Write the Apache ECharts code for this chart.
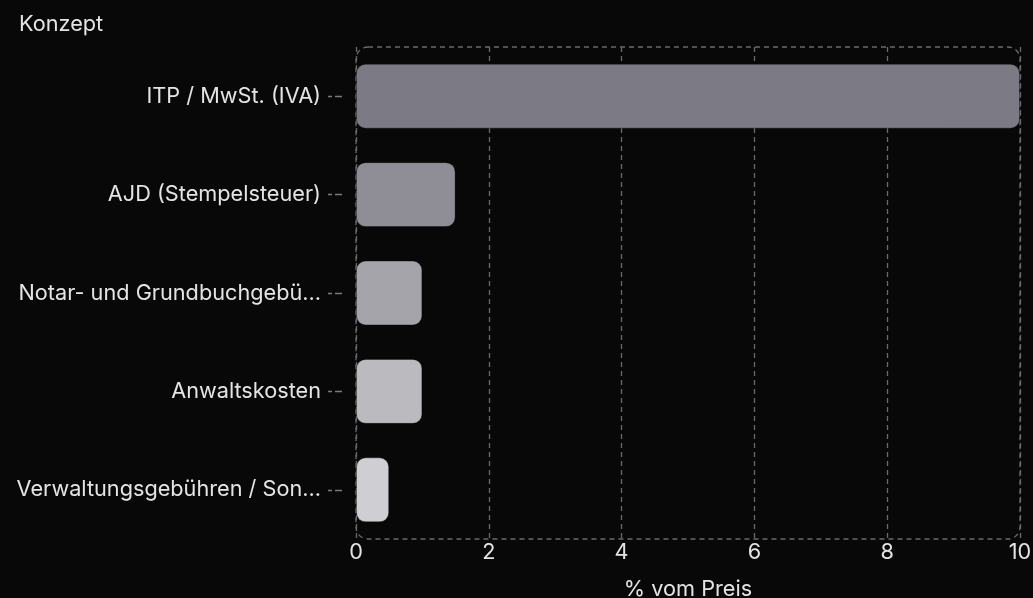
<!DOCTYPE html>
<html>
<head>
<meta charset="utf-8">
<script src="https://cdn.jsdelivr.net/npm/echarts@6/dist/echarts.min.js"></script>
<style>
  html, body { margin: 0; padding: 0; background: #080808; }
  #chart { width: 1033px; height: 598px; }
</style>
</head>
<body>
<div id="chart"></div>
<script>
// data (labels as shown, already shortened in the source chart)
const categories = ['ITP / MwSt. (IVA)', 'AJD (Stempelsteuer)', 'Notar- und Grundbuchgebü...', 'Anwaltskosten', 'Verwaltungsgebühren / Son...'];
const values = [10, 1.5, 1.0, 1.0, 0.5];
const barColors = ['#7c7b85', '#8f8e96', '#a5a4ab', '#bbbabf', '#cfced3'];

const FONT = 'Inter, "Noto Sans", sans-serif';
const TEXT = '#e4e4e4';
const FS = 21.7;
const gridLine = { color: '#6a6a6a', type: [5, 4], width: 1.3 };

const chart = echarts.init(document.getElementById('chart'));
chart.setOption({
  backgroundColor: '#080808',
  textStyle: { fontFamily: FONT },
  title: {
    text: 'Konzept',
    left: 14, top: 8,
    textStyle: { color: TEXT, fontSize: FS, fontWeight: 'normal', fontFamily: FONT }
  },
  grid: { left: 356, right: 13, top: 47, bottom: 59, outerBoundsMode: 'none', containLabel: false },
  graphic: [{
    type: 'rect',
    shape: { x: 356, y: 47, width: 664, height: 492, r: 12 },
    style: { fill: 'none', stroke: '#6a6a6a', lineWidth: 1.3, lineDash: [5, 4] },
    z: 0, silent: true
  }],
  xAxis: {
    type: 'value',
    min: 0, max: 10, interval: 2,
    name: '% vom Preis',
    nameLocation: 'middle',
    nameGap: 39,
    nameTextStyle: { color: TEXT, fontSize: FS },
    axisLine: { show: false },
    axisTick: { show: false },
    axisLabel: { color: TEXT, fontSize: FS, margin: 2 },
    splitLine: { show: true, lineStyle: gridLine }
  },
  yAxis: {
    type: 'category',
    data: categories,
    inverse: true,
    axisLine: { show: false },
    // tick starts 14px away from the plot edge, as in the source
    axisTick: {
      show: true, length: 29, alignWithLabel: true,
      lineStyle: { color: '#7a7a7a', type: [0, 14, 7, 3, 4, 100], width: 1.3 }
    },
    axisLabel: { color: TEXT, fontSize: FS, margin: 35 },
    splitLine: { show: false }
  },
  series: [{
    type: 'bar',
    data: values.map((v, i) => ({ value: v, itemStyle: { color: barColors[i] } })),
    barWidth: '66%',
    itemStyle: { borderRadius: 9, borderColor: 'rgba(0,0,0,0.35)', borderWidth: 1 }
  }]
});
</script>
</body>
</html>
